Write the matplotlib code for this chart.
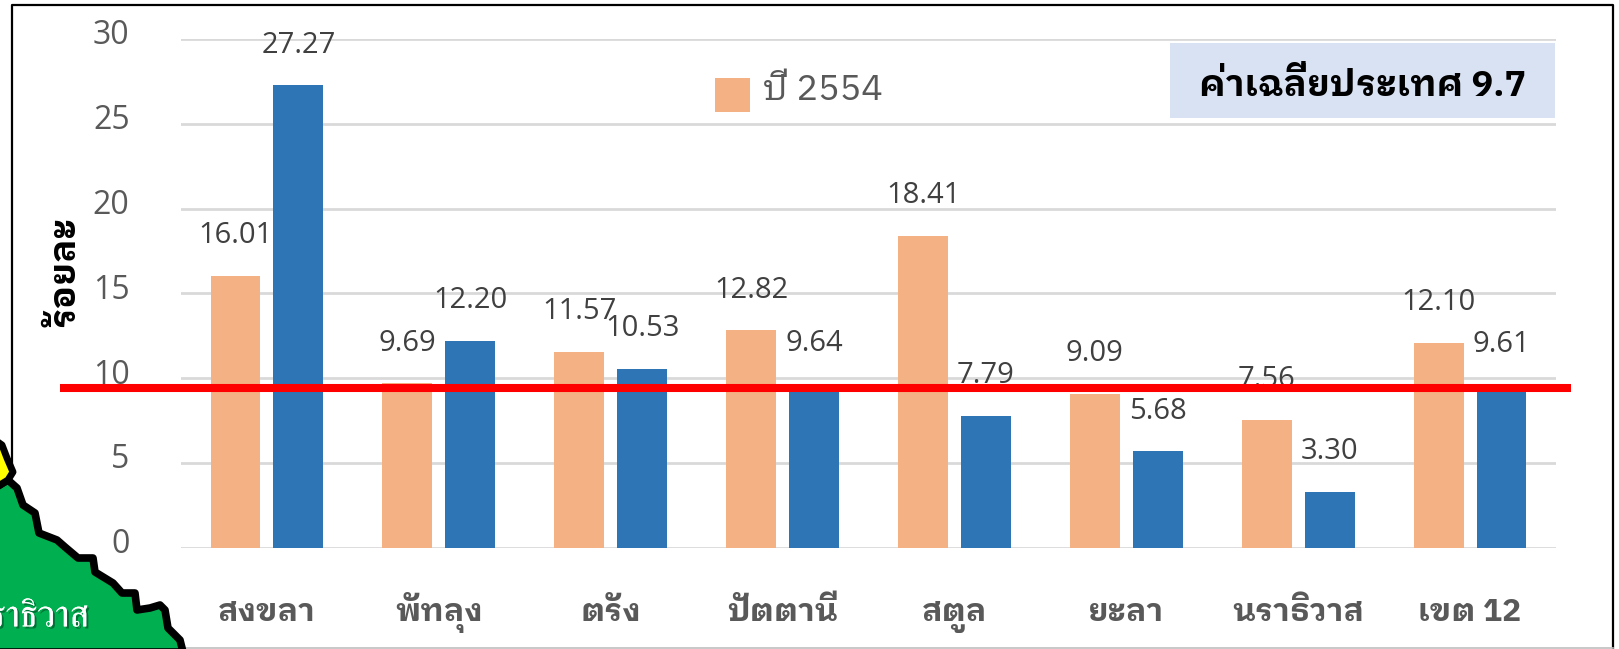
import matplotlib
matplotlib.use('Agg')
import matplotlib.pyplot as plt
from matplotlib.patches import Rectangle, Polygon
from matplotlib.transforms import ScaledTranslation
import matplotlib.patheffects as pe

categories = ['สงขลา', 'พัทลุง', 'ตรัง', 'ปัตตานี', 'สตูล', 'ยะลา', 'นราธิวาส', 'เขต 12']
series_2554 = [16.01, 9.69, 11.57, 12.82, 18.41, 9.09, 7.56, 12.10]
series_other = [27.27, 12.20, 10.53, 9.64, 7.79, 5.68, 3.30, 9.61]
yticks = [0, 5, 10, 15, 20, 25, 30]
national_line = 9.39
legend_label = 'ปี 2554'
note = 'ค่าเฉลี่ยประเทศ 9.7'
ylabel = 'ร้อยละ'
map_label = 'นราธิวาส'
map_outline = [(8, 480), (17, 488), (23, 505), (35, 513), (39, 533),
               (57, 540), (65, 547), (78, 558), (93, 558), (95, 572), (113, 583), (122, 593),
               (135, 593), (137, 610), (150, 608), (160, 605), (165, 610), (168, 628), (180, 640),
               (183, 652), (-5, 652), (-5, 488)]
map_yellow = [(-5, 440), (2, 445), (7, 458), (13, 472), (8, 480), (-5, 488)]

W, H = 1619, 649
ORANGE, BLUE, GREY = '#F4B183', '#2E75B6', '#595959'
THAI = ['IBM Plex Sans Thai Looped', 'Open Sans']
NUM = 'Open Sans'

def fx(x): return x / W
def fy(y): return 1 - y / H
def fig_pts(pts): return [(fx(x), fy(y)) for x, y in pts]

fig = plt.figure(figsize=(W / 100, H / 100), dpi=100, facecolor='white')
ax = fig.add_axes([fx(181), fy(547.7), fx(1556 - 181), (547.7 - 39) / H])
ax.set_xlim(-0.5, 7.5)
ax.set_ylim(0, 30)
ax.patch.set_alpha(0)
for s in ax.spines.values():
    s.set_visible(False)
ax.set_yticks(yticks)
ax.grid(axis='y', color='#D9D9D9', lw=2)
ax.set_axisbelow(True)
ax.tick_params(length=0)
ax.tick_params(axis='y', labelsize=23, labelcolor=GREY, pad=37)
up = ScaledTranslation(0, 7 / 100, fig.dpi_scale_trans)
for t in ax.get_yticklabels():
    t.set_family(NUM)
    t.set_transform(t.get_transform() + up)
ax.set_xticks(range(8))
ax.set_xticklabels(categories, family=THAI, fontsize=23, fontweight='bold', color=GREY, va='baseline')
ax.tick_params(axis='x', pad=53)

pos = list(range(8))
w, off = 0.29, 0.183
ax.bar([p - off for p in pos], series_2554, w, color=ORANGE, zorder=2)
ax.bar([p + off for p in pos], series_other, w, color=BLUE, zorder=2)
for vals, d in ((series_2554, -off), (series_other, off)):
    for p, v in zip(pos, vals):
        ax.annotate(f'{v:.2f}', (p + d, v), xytext=(0, 29), textcoords='offset points',
                    ha='center', va='center', fontsize=21, color='#404040',
                    family=NUM, zorder=3, annotation_clip=False)

# frame
fig.add_artist(plt.Line2D([fx(12), fx(12), fx(1613), fx(1613)], [fy(470), fy(4.5), fy(4.5), fy(648)],
                          color='black', lw=1.6, zorder=0))
fig.add_artist(plt.Line2D([fx(180), fx(1613)], [fy(648), fy(648)], color='#BFBFBF', lw=1.2, zorder=0))

# national average line
red_y = ax.transData.transform((0, national_line))[1] / H
fig.add_artist(plt.Line2D([fx(60), fx(1571)], [red_y, red_y], color='#FF0000',
                          lw=5.8, solid_capstyle='butt', zorder=5))

fig.add_artist(Rectangle((fx(715), fy(112)), fx(35), 34 / H, fc=ORANGE, ec='none',
                         transform=fig.transFigure, zorder=4))
fig.text(fx(763), fy(90), legend_label, family=THAI, fontsize=26, color=GREY, va='center', zorder=4)
fig.add_artist(Rectangle((fx(1170), fy(118)), fx(385), 75 / H, fc='#D9E2F3', ec='none',
                         transform=fig.transFigure, zorder=4))
fig.text(fx(1363), fy(85), note, family=THAI, fontsize=26, fontweight='bold', color='black',
         ha='center', va='center', zorder=5)
fig.text(fx(64), fy(271), ylabel, family=THAI, fontsize=26, fontweight='bold', color='black',
         rotation=90, ha='center', va='center', zorder=5)

# map fragment
fig.add_artist(Polygon(fig_pts(map_outline), closed=True, fc='#00B050', ec='black', lw=5.5,
                       joinstyle='round', transform=fig.transFigure, zorder=6))
fig.add_artist(Polygon(fig_pts(map_yellow), closed=True, fc='#FFFF00', ec='black', lw=5,
                       joinstyle='round', transform=fig.transFigure, zorder=7))
fig.text(fx(89), fy(617), map_label, family=['FreeSerif', 'DejaVu Serif'], fontsize=27,
         color='white', ha='right', va='center', zorder=8,
         path_effects=[pe.withSimplePatchShadow(offset=(1.5, -1.5), shadow_rgbFace='#006030', alpha=0.8),
                       pe.Normal()])

fig.savefig('out.png', dpi=100)
